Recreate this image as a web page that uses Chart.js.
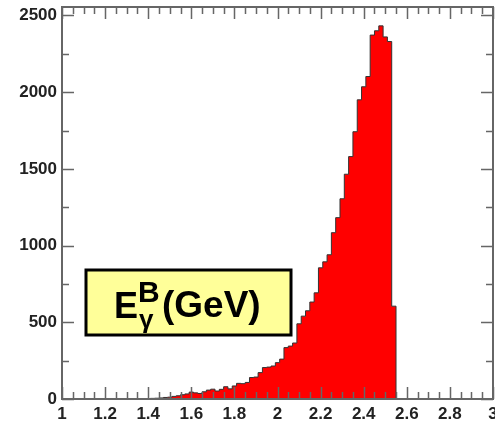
<!DOCTYPE html>
<html>
<head>
<meta charset="utf-8">
<script src="https://cdn.jsdelivr.net/npm/chart.js@4"></script>
<style>
  html, body { margin: 0; padding: 0; background: #fff; }
  #wrap { width: 495px; height: 424px; }
</style>
</head>
<body>
<div id="wrap"><canvas id="chart1" width="495" height="424"></canvas></div>
<script>
// bin centres (GeV), bin width 0.02
const binCenters = [
  1.36, 1.38, 1.40, 1.42, 1.44, 1.46, 1.48, 1.50, 1.52, 1.54,
  1.56, 1.58, 1.60, 1.62, 1.64, 1.66, 1.68, 1.70, 1.72, 1.74,
  1.76, 1.78, 1.80, 1.82, 1.84, 1.86, 1.88, 1.90, 1.92, 1.94,
  1.96, 1.98, 2.00, 2.02, 2.04, 2.06, 2.08, 2.10, 2.12, 2.14,
  2.16, 2.18, 2.20, 2.22, 2.24, 2.26, 2.28, 2.30, 2.32, 2.34,
  2.36, 2.38, 2.40, 2.42, 2.44, 2.46, 2.48, 2.50, 2.52, 2.54
];
const counts = [
  1, 2, 3, 4, 5, 7, 10, 12, 17, 21,
  28, 33, 45, 40, 36, 47, 58, 64, 52, 63,
  80, 66, 85, 102, 100, 108, 140, 143, 172, 205,
  208, 215, 237, 260, 335, 345, 365, 490, 540, 575,
  632, 692, 855, 894, 940, 1084, 1182, 1305, 1465, 1580,
  1742, 1950, 2035, 2102, 2372, 2400, 2432, 2360, 2330, 605
];
const binWidth = 0.02;

const xTicks = [1, 1.2, 1.4, 1.6, 1.8, 2, 2.2, 2.4, 2.6, 2.8, 3];
const yTicks = [0, 500, 1000, 1500, 2000, 2500];

// step outline: left edge of every bin, closed to zero at the end
const points = [{ x: binCenters[0] - binWidth / 2, y: 0 }];
binCenters.forEach((c, i) => points.push({ x: c - binWidth / 2, y: counts[i] }));
points.push({ x: binCenters[binCenters.length - 1] + binWidth / 2, y: 0 });

const frameColor = '#666';

// ROOT style frame with inner ticks on all four sides
const frameTicks = {
  id: 'frameTicks',
  afterDatasetsDraw(chart) {
    const { ctx, chartArea: a, scales: { x, y } } = chart;
    ctx.save();
    ctx.strokeStyle = frameColor;
    ctx.lineWidth = 1.5;
    ctx.beginPath();
    for (let v = 1; v <= 3.0001; v += 0.05) {
      const px = Math.round(x.getPixelForValue(v)) + 0.5;
      const major = Math.abs(v * 5 - Math.round(v * 5)) < 1e-6;
      const len = major ? 12 : 7;
      ctx.moveTo(px, a.bottom); ctx.lineTo(px, a.bottom - len);
      ctx.moveTo(px, a.top); ctx.lineTo(px, a.top + len);
    }
    for (let v = 0; v <= y.max; v += 250) {
      const py = Math.round(y.getPixelForValue(v)) + 0.5;
      const len = v % 500 === 0 ? 12 : 7;
      ctx.moveTo(a.left, py); ctx.lineTo(a.left + len, py);
      ctx.moveTo(a.right, py); ctx.lineTo(a.right - len, py);
    }
    ctx.stroke();
    ctx.lineWidth = 2;
    ctx.strokeRect(a.left, a.top, a.right - a.left, a.bottom - a.top);
    ctx.restore();
  }
};

// yellow label box
const labelBox = {
  id: 'labelBox',
  afterDraw(chart) {
    const ctx = chart.ctx;
    ctx.save();
    ctx.fillStyle = '#ffff99';
    ctx.fillRect(86, 270, 205, 65);
    ctx.strokeStyle = '#000';
    ctx.lineWidth = 3;
    ctx.strokeRect(86, 270, 205, 65);
    ctx.fillStyle = '#000';
    ctx.textBaseline = 'alphabetic';
    ctx.font = 'bold 36px "Liberation Sans", Arial, sans-serif';
    ctx.fillText('E', 114, 318);
    ctx.font = 'bold 30px "Liberation Sans", Arial, sans-serif';
    ctx.fillText('B', 138, 302);
    ctx.font = 'bold 26px "Liberation Sans", Arial, sans-serif';
    ctx.fillText('γ', 139, 328);
    ctx.font = 'bold 37px "Liberation Sans", Arial, sans-serif';
    ctx.fillText('(GeV)', 162, 317);
    ctx.restore();
  }
};

const tickFont = { family: '"Liberation Sans", Arial, sans-serif', size: 17, weight: 'bold' };

const chart1 = new Chart(document.getElementById('chart1'), {
  type: 'line',
  data: {
    datasets: [{
      data: points,
      stepped: true,
      fill: 'origin',
      backgroundColor: '#ff0000',
      borderColor: '#333',
      borderWidth: 1,
      pointRadius: 0,
      tension: 0
    }]
  },
  options: {
    responsive: false,
    animation: false,
    layout: { padding: { top: 7, right: 2, left: 0, bottom: 0 } },
    plugins: {
      legend: { display: false },
      tooltip: { enabled: false }
    },
    scales: {
      x: {
        type: 'linear',
        min: 1,
        max: 3,
        grid: { display: false, drawTicks: false },
        border: { display: false },
        afterBuildTicks: (s) => { s.ticks = xTicks.map(v => ({ value: v })); },
        afterFit: (s) => { s.height = 25; s.paddingLeft = 0; s.paddingRight = 0; },
        ticks: { font: tickFont, color: '#222', padding: 5, maxRotation: 0, autoSkip: false,
                 callback: (v) => String(v) }
      },
      y: {
        min: 0,
        max: 2555,
        grid: { display: false, drawTicks: false },
        border: { display: false },
        afterBuildTicks: (s) => { s.ticks = yTicks.map(v => ({ value: v })); },
        afterFit: (s) => { s.width = 62; s.paddingTop = 0; s.paddingBottom = 0; },
        ticks: { font: tickFont, color: '#222', padding: 5, callback: (v) => String(v) }
      }
    }
  },
  plugins: [frameTicks, labelBox]
});
</script>
</body>
</html>
